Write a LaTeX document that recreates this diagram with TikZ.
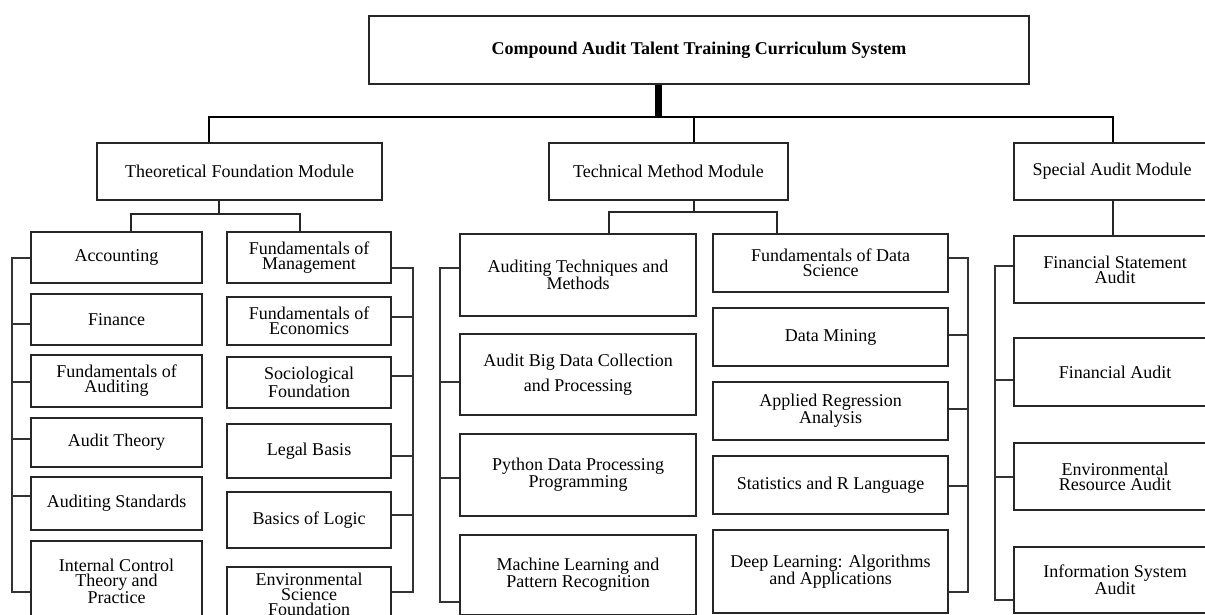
\documentclass[tikz,border=0pt]{standalone}
\usepackage{fontspec}
\setmainfont{Liberation Serif}
\begin{document}
\begin{tikzpicture}[x=1pt,y=-1pt,
  box/.style={draw=black!85, line width=1.7pt, inner sep=0pt, align=center, font=\fontsize{18}{15}\selectfont},
  titlebox/.style={box, font=\fontsize{18}{20}\selectfont\bfseries},
  conn/.style={draw=black!85, line width=1.8pt},
  brk/.style={draw=black!80, line width=1.5pt},
  bus/.style={draw=black, line width=2.6pt},
  stem/.style={draw=black, line width=7pt},
  colTL/.style={box, minimum width=171pt},
  colTR/.style={box, minimum width=164pt},
  colML/.style={box, minimum width=236pt},
  colMR/.style={box, minimum width=235pt},
  colS/.style={box, minimum width=202pt}]
\useasboundingbox (0,0) rectangle (1205,614);
\clip (0,0) rectangle (1205,614);
% title and modules
\node[titlebox, minimum width=660pt, minimum height=68pt] (title) at (699,50) {Compound Audit Talent Training Curriculum System};
\node[box, minimum width=285pt, minimum height=57pt] (theo) at (239.5,171.5) {Theoretical Foundation Module};
\node[box, minimum width=239pt, minimum height=57pt] (tech) at (668.5,171.5) {Technical Method Module};
\node[box, minimum width=196pt, minimum height=57pt] (spec) at (1112,171.5) {Special Audit Module};
% theoretical left column
\node[colTL, minimum height=51pt] (acc) at (116.5,257.5) {Accounting};
\node[colTL, minimum height=51pt] (fin) at (116.5,319.5) {Finance};
\node[colTL, minimum height=52pt] (fau) at (116.5,381) {Fundamentals of\\Auditing};
\node[colTL, minimum height=49pt] (ath) at (116.5,442.5) {Audit Theory};
\node[colTL, minimum height=53pt] (ast) at (116.5,503.5) {Auditing Standards};
\node[colTL, minimum height=81pt] (ict) at (116.5,581.5) {Internal Control\\Theory and\\Practice};
% theoretical right column
\node[colTR, minimum height=51pt] (fma) at (309,257.5) {Fundamentals of\\Management};
\node[colTR, minimum height=48pt] (fec) at (309,321) {Fundamentals of\\Economics};
\node[colTR, minimum height=51pt] (soc) at (309,382.5) {Sociological\\Foundation};
\node[colTR, minimum height=54pt] (leg) at (309,451) {Legal Basis};
\node[colTR, minimum height=56pt] (log) at (309,520) {Basics of Logic};
\node[colTR, minimum height=54pt] (env) at (309,594) {Environmental\\Science\\Foundation};
% technical left column
\node[colML, minimum height=82pt] (atm) at (578,275) {Auditing Techniques and\\Methods};
\node[colML, minimum height=81pt] (abd) at (578,374.5) {Audit Big Data Collection\\[7.5pt]and Processing};
\node[colML, minimum height=82pt] (pyt) at (578,475) {Python Data Processing\\Programming};
\node[colML, minimum height=80pt] (mlp) at (578,575) {Machine Learning and\\Pattern Recognition};
% technical right column
\node[colMR, minimum height=58pt] (fds) at (830.5,263) {Fundamentals of Data\\Science};
\node[colMR, minimum height=58pt] (dmi) at (830.5,337) {Data Mining};
\node[colMR, minimum height=58pt] (ara) at (830.5,411) {Applied Regression\\Analysis};
\node[colMR, minimum height=58pt] (sta) at (830.5,485) {Statistics and R Language};
\node[colMR, minimum height=83pt] (dla) at (830.5,571.5) {Deep Learning: Algorithms\\and Applications};
% special column
\node[colS, minimum height=67pt] (fsa) at (1115,269.5) {Financial Statement\\Audit};
\node[colS, minimum height=68pt] (fau2) at (1115,372) {Financial Audit};
\node[colS, minimum height=67pt] (era) at (1115,476.5) {Environmental\\Resource Audit};
\node[colS, minimum height=66pt] (isa) at (1115,580) {Information System\\Audit};
% bus
\coordinate (busC) at (658,117);
\coordinate (busL) at (209,117);
\coordinate (busT) at (694,117);
\coordinate (busR) at (1113,117);
\draw[stem] (title.south -| busC) -- (busC);
\draw[bus] (busL |- theo.north) -- (busL) -- (busR) -- (busR |- spec.north);
\draw[bus] (busT) -- (busT |- tech.north);
% theoretical split
\coordinate (tj) at (219,214);
\draw[conn] (theo.south -| tj) -- (tj);
\draw[conn] (acc.north -| 131,0) -- (131,214) -- (300,214) -- (fma.north -| 300,0);
% technical split
\coordinate (mj) at (694,212);
\draw[conn] (tech.south -| mj) -- (mj);
\draw[conn] (atm.north -| 609,0) -- (609,212) -- (777,212) -- (fds.north -| 777,0);
% special drop
\draw[conn] (spec.south -| 1113,0) -- (fsa.north -| 1113,0);
% brackets theoretical left
\draw[brk] (acc.west |- 0,258) -- (12,258) -- (12,592) -- (ict.west |- 0,592);
\draw[brk] (fin.west |- 0,324) -- (12,324);
\draw[brk] (fau.west |- 0,382) -- (12,382);
\draw[brk] (ath.west |- 0,439) -- (12,439);
\draw[brk] (ast.west |- 0,496) -- (12,496);
% brackets theoretical right
\draw[brk] (fma.east |- 0,268) -- (413,268) -- (413,592) -- (env.east |- 0,592);
\draw[brk] (fec.east |- 0,317) -- (413,317);
\draw[brk] (soc.east |- 0,376) -- (413,376);
\draw[brk] (leg.east |- 0,456) -- (413,456);
\draw[brk] (log.east |- 0,515) -- (413,515);
% brackets technical left
\draw[brk] (atm.west |- 0,268) -- (440,268) -- (440,602) -- (mlp.west |- 0,602);
\draw[brk] (abd.west |- 0,382) -- (440,382);
\draw[brk] (pyt.west |- 0,478) -- (440,478);
% brackets technical right
\draw[brk] (fds.east |- 0,258) -- (968,258) -- (968,592) -- (dla.east |- 0,592);
\draw[brk] (dmi.east |- 0,335) -- (968,335);
\draw[brk] (ara.east |- 0,409) -- (968,409);
\draw[brk] (sta.east |- 0,486) -- (968,486);
% brackets special
\draw[brk] (fsa.west |- 0,266) -- (995,266) -- (995,600) -- (isa.west |- 0,600);
\draw[brk] (fau2.west |- 0,380) -- (995,380);
\draw[brk] (era.west |- 0,477) -- (995,477);
\end{tikzpicture}
\end{document}
